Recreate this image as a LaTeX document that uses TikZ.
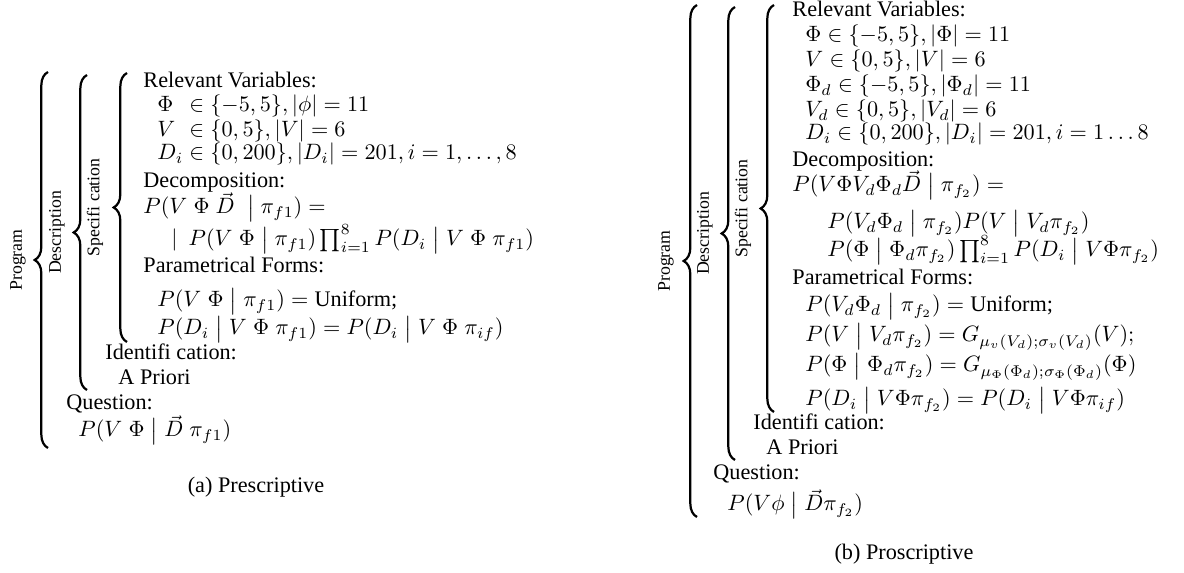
\documentclass[tikz,border=0pt]{standalone}
\usepackage{amsmath}
\usepackage{amsfonts}
\usepackage[no-math]{fontspec}
\setmainfont{Liberation Serif}
\usetikzlibrary{decorations.pathreplacing}
\newcommand{\cnd}{\;\big|\;}

\tikzset{
  ln/.style={anchor=base west, inner sep=0pt},
  brc/.style={decorate, decoration={brace, amplitude=6pt}, line width=1pt},
  side/.style={rotate=90, inner sep=0pt, font=\footnotesize},
  capt/.style={anchor=base, inner sep=0pt}
}

\begin{document}
\begin{tikzpicture}[x=0.45pt,y=-0.45pt]
    \useasboundingbox (0,0) rectangle (1184,573); % same frame as the reference

    % braces and their side labels: name/label/label x/brace x/top/bottom
    \foreach \nm/\lbl/\lx/\bx/\ty/\by in {
        aProg/Program/18/48/72/448,
        aDesc/Description/57/87/75/390,
        aSpec/Specifi cation/95/127/73/342,
        bProg/Program/666/697/5/517,
        bDesc/Description/705/735/7/460,
        bSpec/Specifi cation/743/774/5/412}{%
      \coordinate (\nm Top) at (\bx,\ty);
      \coordinate (\nm Bot) at (\bx,\by);
      \draw[brc] (\nm Bot) -- (\nm Top);
      \node[side] (\nm) at (\lx,{(\ty+\by)/2}) {\lbl};
    }

    % (a) prescriptive program
    \node[ln] (aRel)   at (143,88)  {Relevant Variables:};
    \node[ln] (aPhi)   at (157,112) {$\rlap{$\Phi$}\hphantom{D_i}\in\{-5,5\},|\phi|=11$};
    \node[ln] (aV)     at (157,137) {$\rlap{$V$}\hphantom{D_i}\in\{0,5\},|V|=6$};
    \node[ln] (aD)     at (157,160) {$D_i\in\{0,200\},|D_i|=201,i=1,\ldots,8$};
    \node[ln] (aDec)   at (143,188) {Decomposition:};
    \node[ln] (aJoint) at (143,214) {$P(V\;\Phi\;\vec{D}\;\cnd\pi_{f1})=$};
    \node[ln] (aProd)  at (171,246) {$|\hspace{5pt}P(V\;\Phi\cnd\pi_{f1})\prod_{i=1}^{8}P(D_i\cnd V\;\Phi\;\pi_{f1})$};
    \node[ln] (aPar)   at (143,273) {Parametrical Forms:};
    \node[ln] (aUni)   at (157,307) {$P(V\;\Phi\cnd\pi_{f1})=\text{Uniform;}$};
    \node[ln] (aDi)    at (157,335) {$P(D_i\cnd V\;\Phi\;\pi_{f1})=P(D_i\cnd V\;\Phi\;\pi_{if})$};
    \node[ln] (aIdent) at (105,360) {Identifi cation:};
    \node[ln] (aPrior) at (118,385) {A Priori};
    \node[ln] (aQuest) at (66,410)  {Question:};
    \node[ln] (aAsk)   at (78,437)  {$P(V\;\Phi\cnd\vec{D}\;\pi_{f1})$};
    \node[capt] (aCap) at (256,493) {(a) Prescriptive};

    % (b) proscriptive program
    \node[ln] (bRel)   at (792,17)  {Relevant Variables:};
    \node[ln] (bPhi)   at (805,42)  {$\Phi\in\{-5,5\},|\Phi|=11$};
    \node[ln] (bV)     at (805,67)  {$V\in\{0,5\},|V|=6$};
    \node[ln] (bPhiD)  at (805,92)  {$\Phi_d\in\{-5,5\},|\Phi_d|=11$};
    \node[ln] (bVD)    at (805,117) {$V_d\in\{0,5\},|V_d|=6$};
    \node[ln] (bD)     at (805,140) {$D_i\in\{0,200\},|D_i|=201,i=1\ldots8$};
    \node[ln] (bDec)   at (792,167) {Decomposition:};
    \node[ln] (bJoint) at (792,192) {$P(V\Phi V_d\Phi_d\vec{D}\cnd\pi_{f_2})=$};
    \node[ln] (bProdA) at (827,229) {$P(V_d\Phi_d\cnd\pi_{f_2})P(V\cnd V_d\pi_{f_2})$};
    \node[ln] (bProdB) at (827,257) {$P(\Phi\cnd\Phi_d\pi_{f_2})\prod_{i=1}^{8}P(D_i\cnd V\Phi\pi_{f_2})$};
    \node[ln] (bPar)   at (792,285) {Parametrical Forms:};
    \node[ln] (bUni)   at (805,312) {$P(V_d\Phi_d\cnd\pi_{f_2})=\text{Uniform;}$};
    \node[ln] (bGv)    at (805,342) {$P(V\cnd V_d\pi_{f_2})=G_{\mu_v(V_d);\sigma_v(V_d)}(V);$};
    \node[ln] (bGphi)  at (805,372) {$P(\Phi\cnd\Phi_d\pi_{f_2})=G_{\mu_\Phi(\Phi_d);\sigma_\Phi(\Phi_d)}(\Phi)$};
    \node[ln] (bDi)    at (805,406) {$P(D_i\cnd V\Phi\pi_{f_2})=P(D_i\cnd V\Phi\pi_{if})$};
    \node[ln] (bIdent) at (753,430) {Identifi cation:};
    \node[ln] (bPrior) at (766,455) {A Priori};
    \node[ln] (bQuest) at (713,480) {Question:};
    \node[ln] (bAsk)   at (727,511) {$P(V\phi\cnd\vec{D}\pi_{f_2})$};
    \node[capt] (bCap) at (904,560) {(b) Proscriptive};
\end{tikzpicture}
\end{document}
